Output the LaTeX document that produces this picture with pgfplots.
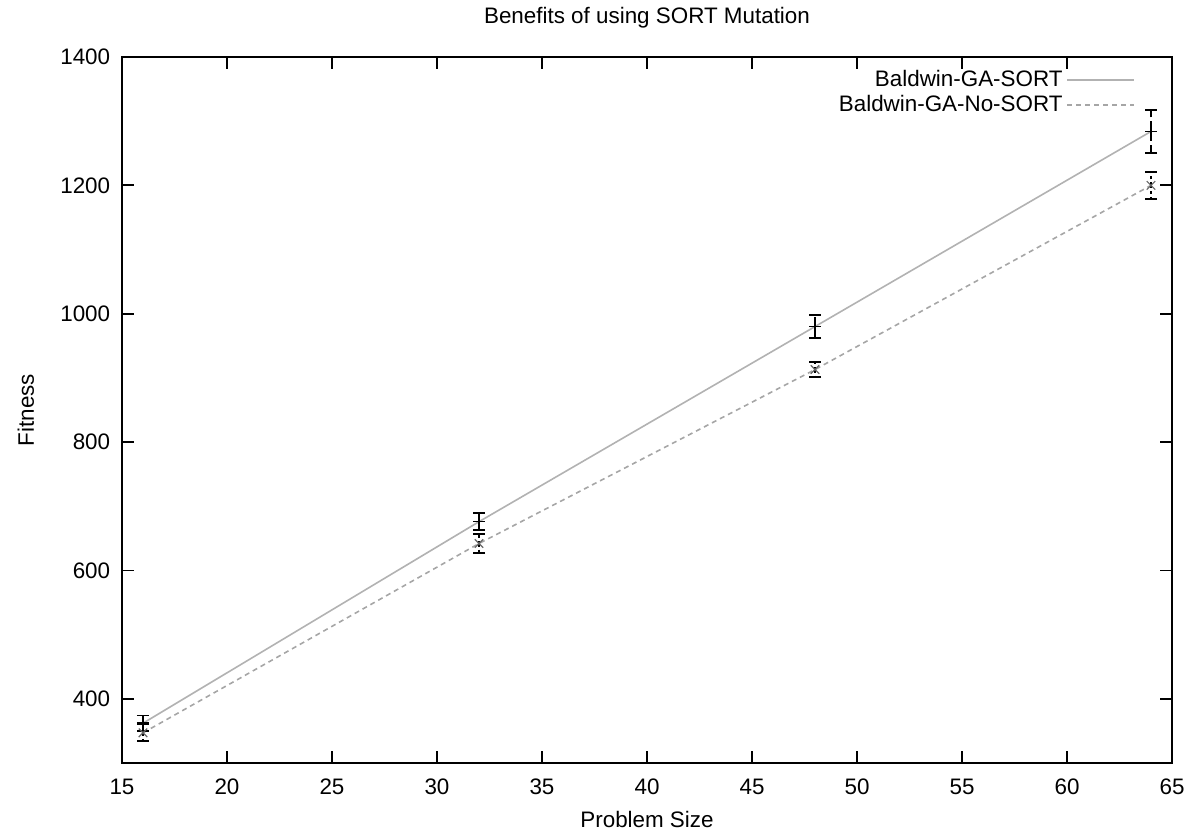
\documentclass[border=0pt]{standalone}
\usepackage{fontspec}
\setmainfont{Liberation Sans}
\usepackage{pgfplots}
\pgfplotsset{compat=1.18}
\begin{document}
\fontsize{11.2pt}{13pt}\selectfont
\begin{tikzpicture}
\begin{axis}[
  name=ax,
  scale only axis,
  width=525pt, height=353pt,
  xmin=15, xmax=65, ymin=300, ymax=1400,
  xtick={15,20,...,65},
  ytick={400,600,...,1400},
  tick align=inside,
  major tick length=6pt,
  axis line style={line width=0.9pt, black},
  tick style={line width=0.9pt, black},
  /pgf/number format/assume math mode=true,
  /pgf/number format/set thousands separator={},
  tick label style={font=\fontsize{11.2pt}{13pt}\selectfont},
  xticklabel style={yshift=-4pt},
  yticklabel style={xshift=-2pt},
  xlabel={Problem Size},
  ylabel={Fitness},
  title={Benefits of using SORT Mutation},
  label style={font=\fontsize{11.2pt}{13pt}\selectfont},
  title style={font=\fontsize{11.2pt}{13pt}\selectfont, yshift=4.5pt},
  xlabel style={yshift=-0.5pt},
  ylabel style={yshift=5.5pt},
  legend style={draw=none, fill=none, at={(rel axis cs:0.971,0.993)}, anchor=north east,
    font=\fontsize{11.2pt}{13pt}\selectfont, row sep=-1.5pt},
  legend cell align=right,
  legend plot pos=right,
  legend image code/.code={\draw[#1] (5pt,0pt) -- (38.5pt,0pt);},
]
\addplot[color=black!30, line width=0.8pt] coordinates {
  (16,362) (32,676) (48,980) (64,1284)
};
\addlegendentry{Baldwin-GA-SORT}
\addplot[color=black!35, line width=0.8pt, dash pattern=on 2.5pt off 2pt] coordinates {
  (16,347) (32,642) (48,913) (64,1200)
};
\addlegendentry{Baldwin-GA-No-SORT}

\addplot[forget plot, only marks, mark=+, mark size=3pt, mark options={black, line width=0.8pt},
  error bars/.cd, y dir=both, y explicit,
  error bar style={black, line width=0.9pt, dash pattern=on 5pt off 2pt},
  error mark options={black, line width=0.9pt, solid, mark size=3pt, rotate=90}]
  coordinates {
  (16,362) +- (0,12)
  (32,676) +- (0,13)
  (48,980) +- (0,18)
  (64,1284) +- (0,33)
};
\addplot[forget plot, only marks, mark=x, mark size=3pt, mark options={black!60, line width=0.6pt},
  error bars/.cd, y dir=both, y explicit,
  error bar style={black, line width=0.9pt, dash pattern=on 1.5pt off 1.5pt},
  error mark options={black, line width=0.9pt, solid, mark size=3pt, rotate=90}]
  coordinates {
  (16,347) +- (0,13)
  (32,642) +- (0,15)
  (48,913) +- (0,12)
  (64,1200) +- (0,21)
};
\end{axis}
\pgfresetboundingbox
\path ([xshift=-61pt,yshift=-34pt]ax.south west) rectangle ([xshift=7pt,yshift=28.5pt]ax.north east);
\end{tikzpicture}
\end{document}
